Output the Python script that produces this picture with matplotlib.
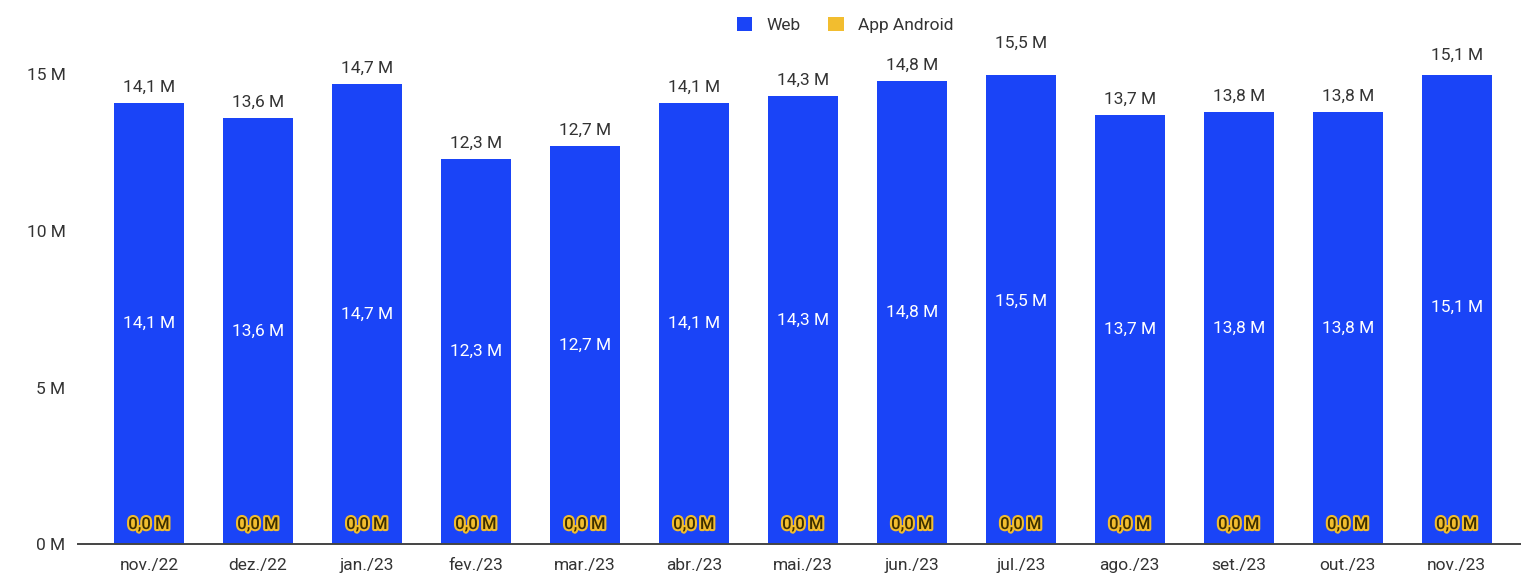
import matplotlib.pyplot as plt
import matplotlib.patheffects as pe
import numpy as np

months = ["nov./22", "dez./22", "jan./23", "fev./23", "mar./23", "abr./23", "mai./23",
          "jun./23", "jul./23", "ago./23", "set./23", "out./23", "nov./23"]
web = [14.1, 13.6, 14.7, 12.3, 12.7, 14.1, 14.3, 14.8, 15.5, 13.7, 13.8, 13.8, 15.1]
android = [0.0] * 13

BLUE = "#1a44f7"
YELLOW = "#f2bd2f"
TXT = "#333333"


def fmt(v):
    return f"{v:.1f} M".replace(".", ",")


plt.rcParams["font.family"] = ["Roboto", "DejaVu Sans"]

fig = plt.figure(figsize=(15.21, 5.74), dpi=100)
ax = fig.add_axes([78 / 1521, 1 - 544 / 574, 1 - 78 / 1521, (544 - 74.5) / 574])

x = np.arange(len(months))
ax.bar(x, web, width=0.64, color=BLUE, label="Web", zorder=2)
ax.bar(x, android, width=0.64, bottom=web, color=YELLOW, label="App Android", zorder=2)

totals = [w + a for w, a in zip(web, android)]
for i in x:
    # total above bar
    ax.annotate(fmt(totals[i]), (i, totals[i]), xytext=(0, 6), textcoords="offset points",
                ha="center", va="bottom", fontsize=12.5, color=TXT, annotation_clip=False)
    # web value inside bar
    ax.annotate(fmt(web[i]), (i, web[i] / 2), ha="center", va="center",
                fontsize=12.5, color="white", annotation_clip=False)
    # android value at the bottom
    ax.annotate(fmt(android[i]), (i, 0), xytext=(0, 14), textcoords="offset points",
                ha="center", va="center", fontsize=12, fontweight="medium", color="#3d2f00",
                path_effects=[pe.withStroke(linewidth=3, foreground=YELLOW)],
                annotation_clip=False)

ax.set_xlim(-0.651, 12.59)
ax.set_ylim(0, 15)
ax.set_yticks([0, 5, 10, 15])
ax.set_yticklabels(["0 M", "5 M", "10 M", "15 M"])
ax.set_xticks(x)
ax.set_xticklabels(months)
ax.tick_params(axis="y", length=0, pad=9, labelsize=12.5, labelcolor=TXT)
ax.tick_params(axis="x", length=0, pad=10, labelsize=12.5, labelcolor=TXT)
for s in ["top", "right", "left"]:
    ax.spines[s].set_visible(False)
ax.spines["bottom"].set_color("#444444")
ax.spines["bottom"].set_linewidth(1.4)
ax.spines["bottom"].set_zorder(3)

leg = fig.legend(loc="center", bbox_to_anchor=(845 / 1521, 1 - 25 / 574), ncol=2,
                 frameon=False, fontsize=12.5, handlelength=0.9, handleheight=0.9,
                 handletextpad=0.8, columnspacing=1.6, labelcolor=TXT)

fig.savefig("out.png", dpi=100, facecolor="white")
